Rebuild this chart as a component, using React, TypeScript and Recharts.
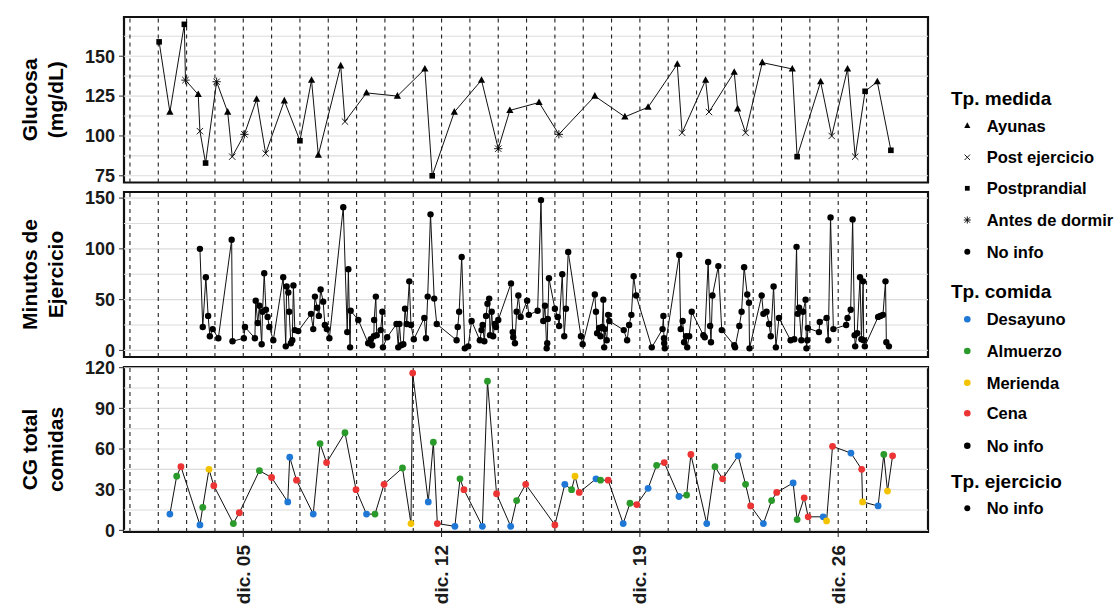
import React from "react";
import {
  ComposedChart,
  Line,
  XAxis,
  YAxis,
  ReferenceLine,
  ReferenceArea,
} from "recharts";

const FONT = "'Liberation Sans', Arial, Helvetica, sans-serif";
const CHART_W = 940;
const CHART_H = 612;
const PLOT_LEFT = 124;
const PLOT_RIGHT = 928;

// x values are days since 1 Dec 00:00
const xDomain: [number, number] = [-0.21, 28.17];
const dayLines = [0, 1, 2, 3, 4, 5, 6, 7, 8, 9, 10, 11, 12, 13, 14, 15, 16, 17, 18, 19, 20, 21, 22, 23, 24, 25, 26];
const xTickDays = [4, 11, 18, 25];
const xTickLabels = ["dic. 05", "dic. 12", "dic. 19", "dic. 26"];

// Glucosa
const glucoseDay = [1.03, 1.41, 1.92, 1.96, 2.41, 2.47, 2.67, 3.06, 3.45, 3.61, 4.04, 4.47, 4.79, 5.45, 6.0, 6.41, 6.65, 7.44, 7.59, 8.35, 9.44, 10.41, 10.67, 11.45, 12.41, 13.0, 13.41, 14.44, 15.14, 16.41, 17.47, 18.29, 19.32, 19.49, 20.32, 20.44, 21.33, 21.45, 21.73, 22.32, 23.38, 23.55, 24.38, 24.77, 25.33, 25.6, 25.95, 26.38, 26.86];
const glucoseValue = [159, 115, 170, 135, 126, 103, 83, 134, 115, 87, 101, 123, 89, 122, 97, 135, 88, 144, 109, 127, 125, 142, 75, 115, 135, 92, 116, 121, 101, 125, 112, 118, 145, 102, 135, 115, 140, 117, 102, 146, 142, 87, 134, 100, 142, 87, 128, 134, 91];
const glucoseType = ["S", "A", "S", "D", "A", "P", "S", "D", "A", "P", "D", "A", "P", "A", "S", "A", "A", "A", "P", "A", "A", "A", "S", "A", "A", "D", "A", "A", "D", "A", "A", "A", "A", "P", "A", "P", "A", "A", "P", "A", "A", "S", "A", "P", "A", "P", "S", "A", "S"];
const glucoseYDomain: [number, number] = [70.8, 174.6];
const glucoseTicks = [75, 100, 125, 150];
const glucoseGrid = [75, 87.5, 100, 112.5, 125, 137.5, 150, 162.5];

// Minutos de ejercicio
const exerciseDay = [2.47, 2.57, 2.68, 2.76, 2.82, 2.92, 3.12, 3.59, 3.62, 4.02, 4.06, 4.41, 4.44, 4.51, 4.57, 4.65, 4.68, 4.74, 4.8, 4.86, 4.92, 5.06, 5.41, 5.5, 5.53, 5.59, 5.62, 5.68, 5.73, 5.77, 5.82, 5.94, 6.39, 6.47, 6.53, 6.61, 6.67, 6.73, 6.82, 6.88, 6.95, 7.04, 7.53, 7.67, 7.71, 7.77, 7.79, 8.06, 8.41, 8.5, 8.55, 8.61, 8.62, 8.68, 8.71, 8.85, 8.91, 8.93, 9.08, 9.41, 9.47, 9.51, 9.57, 9.65, 9.71, 9.77, 9.86, 9.92, 10.02, 10.39, 10.45, 10.51, 10.61, 10.74, 10.83, 11.53, 11.57, 11.62, 11.71, 11.82, 11.94, 12.06, 12.35, 12.41, 12.45, 12.51, 12.57, 12.62, 12.68, 12.71, 12.77, 12.82, 12.88, 12.92, 13.0, 13.45, 13.51, 13.53, 13.59, 13.65, 13.71, 13.79, 14.02, 14.08, 14.39, 14.51, 14.59, 14.65, 14.71, 14.73, 14.75, 14.79, 15.0, 15.1, 15.15, 15.26, 15.33, 15.39, 15.47, 15.92, 15.98, 16.41, 16.45, 16.49, 16.56, 16.61, 16.67, 16.71, 16.74, 16.76, 16.83, 16.88, 16.92, 17.43, 17.55, 17.62, 17.7, 17.78, 17.87, 18.42, 18.8, 18.83, 18.85, 18.86, 18.88, 19.39, 19.44, 19.51, 19.56, 19.63, 19.67, 19.74, 19.83, 20.24, 20.29, 20.41, 20.48, 20.51, 20.56, 20.77, 20.89, 21.33, 21.36, 21.51, 21.59, 21.68, 21.79, 21.85, 21.87, 22.3, 22.36, 22.47, 22.56, 22.62, 22.72, 22.8, 22.91, 23.32, 23.45, 23.53, 23.57, 23.62, 23.7, 23.76, 23.85, 23.88, 23.91, 23.93, 24.32, 24.35, 24.59, 24.65, 24.73, 24.83, 25.28, 25.33, 25.44, 25.51, 25.58, 25.6, 25.67, 25.77, 25.82, 25.88, 25.9, 25.94, 26.41, 26.49, 26.58, 26.67, 26.7, 26.79];
const exerciseMinutes = [100, 23, 72, 34, 14, 21, 12, 109, 9, 12, 23, 12, 49, 27, 44, 6, 38, 76, 40, 33, 23, 10, 72, 4, 63, 57, 38, 7, 10, 64, 20, 19, 36, 21, 53, 42, 34, 60, 48, 25, 21, 12, 141, 18, 80, 3, 39, 30, 7, 11, 5, 14, 30, 53, 15, 20, 38, 3, 13, 26, 3, 26, 5, 6, 41, 26, 68, 25, 11, 32, 12, 53, 134, 51, 26, 10, 23, 38, 92, 2, 4, 29, 10, 20, 25, 9, 34, 46, 51, 15, 38, 14, 26, 23, 30, 66, 18, 13, 7, 38, 54, 33, 49, 35, 39, 148, 29, 44, 2, 7, 31, 71, 41, 33, 24, 75, 14, 41, 97, 14, 6, 55, 38, 17, 22, 14, 23, 50, 3, 21, 10, 35, 29, 20, 10, 25, 35, 73, 54, 3, 21, 34, 12, 7, 2, 94, 21, 29, 8, 14, 3, 14, 38, 15, 13, 87, 24, 8, 54, 83, 20, 5, 3, 24, 38, 82, 55, 47, 2, 54, 36, 38, 26, 14, 63, 3, 32, 10, 11, 102, 36, 42, 10, 38, 50, 2, 10, 22, 18, 28, 32, 10, 131, 21, 25, 32, 40, 129, 15, 4, 17, 72, 11, 68, 10, 4, 33, 34, 35, 68, 8, 4];
const exerciseYDomain: [number, number] = [-6.5, 156];
const exerciseTicks = [0, 50, 100, 150];
const exerciseGrid = [0, 25, 50, 75, 100, 125, 150];

// CG total comidas
const mealDay = [1.41, 1.65, 1.8, 2.47, 2.57, 2.79, 2.96, 3.65, 3.86, 4.57, 5.0, 5.57, 5.64, 5.88, 6.47, 6.71, 6.94, 7.59, 7.98, 8.35, 8.65, 8.97, 9.62, 9.92, 9.98, 10.53, 10.71, 10.85, 11.47, 11.65, 11.79, 12.44, 12.62, 12.94, 13.44, 13.65, 13.97, 15.0, 15.35, 15.59, 15.71, 15.86, 16.45, 16.61, 16.88, 17.41, 17.65, 17.89, 18.29, 18.59, 18.86, 19.38, 19.65, 19.8, 20.36, 20.65, 20.92, 21.47, 21.73, 21.91, 22.36, 22.65, 22.83, 23.41, 23.55, 23.8, 23.94, 24.47, 24.59, 24.8, 25.45, 25.83, 25.86, 26.41, 26.61, 26.74, 26.92];
const mealLoad = [12, 40, 47, 4, 17, 45, 33, 5, 13, 44, 39, 21, 54, 37, 12, 64, 50, 72, 30, 12, 12, 34, 46, 5, 116, 21, 65, 5, 3, 38, 30, 3, 110, 27, 3, 22, 34, 4, 34, 30, 40, 28, 38, 37, 37, 5, 20, 19, 31, 48, 50, 25, 26, 56, 5, 47, 38, 55, 34, 18, 5, 22, 28, 35, 8, 24, 10, 10, 7, 62, 57, 45, 21, 18, 56, 29, 55];
const mealType = ["B", "G", "R", "B", "G", "Y", "R", "G", "R", "G", "R", "B", "B", "R", "B", "G", "R", "G", "R", "B", "G", "R", "G", "Y", "R", "B", "G", "R", "B", "G", "R", "B", "G", "R", "B", "G", "R", "R", "B", "G", "Y", "R", "B", "G", "R", "B", "G", "R", "B", "G", "R", "B", "G", "R", "B", "G", "R", "B", "G", "R", "B", "G", "R", "B", "G", "R", "R", "B", "Y", "R", "B", "R", "Y", "B", "G", "Y", "R"];
const mealYDomain: [number, number] = [-1.2, 120.5];
const mealTicks = [0, 30, 60, 90, 120];
const mealGrid = [0, 15, 30, 45, 60, 75, 90, 105, 120];

const mealColors: Record<string, string> = {
  B: "#1f78d6",
  G: "#2a9a2a",
  Y: "#f3c300",
  R: "#ec3434",
};

const glucoseData = glucoseDay.map((d, i) => ({ day: d, value: glucoseValue[i], type: glucoseType[i] }));
const exerciseData = exerciseDay.map((d, i) => ({ day: d, value: exerciseMinutes[i] }));
const mealData = mealDay.map((d, i) => ({ day: d, value: mealLoad[i], type: mealType[i] }));

function GlucoseShape({ cx, cy, type, s = 1 }: { cx: number; cy: number; type: string; s?: number }) {
  if (type === "A") {
    return (
      <polygon
        points={`${cx},${cy - 4 * s} ${cx - 3.6 * s},${cy + 2.6 * s} ${cx + 3.6 * s},${cy + 2.6 * s}`}
        fill="#000"
      />
    );
  }
  if (type === "S") {
    return <rect x={cx - 2.8 * s} y={cy - 2.8 * s} width={5.6 * s} height={5.6 * s} fill="#000" />;
  }
  const r = 3.2 * s;
  return (
    <g stroke="#000" strokeWidth={0.9}>
      <line x1={cx - r} y1={cy - r} x2={cx + r} y2={cy + r} />
      <line x1={cx - r} y1={cy + r} x2={cx + r} y2={cy - r} />
      {type === "D" && (
        <>
          <line x1={cx} y1={cy - r * 1.3} x2={cx} y2={cy + r * 1.3} />
          <line x1={cx - r * 1.3} y1={cy} x2={cx + r * 1.3} y2={cy} />
        </>
      )}
    </g>
  );
}

const DateTick = (props: any) => {
  const { x, y, payload } = props;
  const label = xTickLabels[xTickDays.indexOf(payload.value)];
  return (
    <text
      x={x}
      y={y}
      transform={`rotate(-90 ${x} ${y})`}
      textAnchor="end"
      dominantBaseline="central"
      fontFamily={FONT}
      fontWeight={700}
      fontSize={19}
      fill="#1a1a1a"
    >
      {label}
    </text>
  );
};

interface PanelProps {
  top: number;
  bottom: number;
  yDomain: [number, number];
  yTicks: number[];
  yGrid: number[];
  showX?: boolean;
  children: React.ReactNode;
}

function Panel({ top, bottom, yDomain, yTicks, yGrid, showX, children }: PanelProps) {
  return (
    <div style={{ position: "absolute", left: 0, top: 0 }}>
      <ComposedChart
        width={CHART_W}
        height={CHART_H}
        margin={{ top, right: CHART_W - PLOT_RIGHT, bottom: showX ? 0 : CHART_H - bottom, left: 0 }}
      >
        <XAxis
          type="number"
          dataKey="day"
          domain={xDomain}
          allowDataOverflow
          hide={!showX}
          height={showX ? CHART_H - bottom : 0}
          ticks={xTickDays}
          tick={<DateTick />}
          tickSize={5}
          tickMargin={8}
          tickLine={{ stroke: "#222" }}
          axisLine={false}
          interval={0}
        />
        <YAxis
          type="number"
          domain={yDomain}
          allowDataOverflow
          ticks={yTicks}
          interval={0}
          width={PLOT_LEFT}
          tickSize={5}
          tickMargin={4}
          tickLine={{ stroke: "#333" }}
          axisLine={false}
          tick={{ fontSize: 18, fontWeight: 700, fill: "#1a1a1a", fontFamily: FONT }}
        />
        {yGrid.map((v) => (
          <ReferenceLine key={`g${v}`} y={v} stroke="#dcdcdc" strokeWidth={1.1} />
        ))}
        {dayLines.map((d) => (
          <ReferenceLine key={`d${d}`} x={d} stroke="#222" strokeWidth={1.1} strokeDasharray="4 4" />
        ))}
        {children}
        <ReferenceArea
          x1={xDomain[0]}
          x2={xDomain[1]}
          y1={yDomain[0]}
          y2={yDomain[1]}
          fill="none"
          fillOpacity={0}
          stroke="#111"
          strokeWidth={2.2}
        />
      </ComposedChart>
    </div>
  );
}

const legendMedida = [
  { type: "A", label: "Ayunas", y: 125.7 },
  { type: "P", label: "Post ejercicio", y: 157.3 },
  { type: "S", label: "Postprandial", y: 188.3 },
  { type: "D", label: "Antes de dormir", y: 220 },
  { type: "N", label: "No info", y: 251.7 },
];
const legendComida = [
  { type: "B", label: "Desayuno", y: 319.3 },
  { type: "G", label: "Almuerzo", y: 351 },
  { type: "Y", label: "Merienda", y: 382.7 },
  { type: "R", label: "Cena", y: 413.3 },
  { type: "N", label: "No info", y: 445.7 },
];

function Overlay() {
  const titleStyle = { fontFamily: FONT, fontWeight: 700, fontSize: 21, fill: "#000" };
  const legTitle = { fontFamily: FONT, fontWeight: 700, fontSize: 19, fill: "#000" };
  const legLabel = { fontFamily: FONT, fontWeight: 700, fontSize: 16.5, fill: "#000" };
  const yTitle = (lines: string[], cy: number) =>
    lines.map((t, i) => (
      <text
        key={t}
        transform={`translate(${29 + i * 26}, ${cy}) rotate(-90)`}
        textAnchor="middle"
        dominantBaseline="central"
        style={titleStyle}
      >
        {t}
      </text>
    ));
  return (
    <svg
      width={1117}
      height={612}
      style={{ position: "absolute", left: 0, top: 0, pointerEvents: "none" }}
    >
      {yTitle(["Glucosa", "(mg/dL)"], 99.7)}
      {yTitle(["Minutos de", "Ejercicio"], 274.5)}
      {yTitle(["CG total", "comidas"], 449.5)}

      <text x={951} y={98.3} dominantBaseline="central" style={legTitle}>Tp. medida</text>
      {legendMedida.map((it) => (
        <g key={it.label}>
          {it.type === "N" ? (
            <circle cx={967.3} cy={it.y} r={3} fill="#000" />
          ) : (
            <GlucoseShape cx={967.3} cy={it.y} type={it.type} s={0.85} />
          )}
          <text x={986.7} y={it.y} dominantBaseline="central" style={legLabel}>{it.label}</text>
        </g>
      ))}

      <text x={951} y={291.7} dominantBaseline="central" style={legTitle}>Tp. comida</text>
      {legendComida.map((it) => (
        <g key={it.label + it.y}>
          <circle cx={967.3} cy={it.y} r={3.3} fill={mealColors[it.type] || "#000"} />
          <text x={986.7} y={it.y} dominantBaseline="central" style={legLabel}>{it.label}</text>
        </g>
      ))}

      <text x={951} y={481.7} dominantBaseline="central" style={legTitle}>Tp. ejercicio</text>
      <circle cx={967.3} cy={508.3} r={3} fill="#000" />
      <text x={986.7} y={508.3} dominantBaseline="central" style={legLabel}>No info</text>
    </svg>
  );
}

export default function App() {
  return (
    <div style={{ position: "absolute", left: 0, top: 0, width: 1117, height: 612, background: "#fff" }}>
      <Panel top={17} bottom={182.5} yDomain={glucoseYDomain} yTicks={glucoseTicks} yGrid={glucoseGrid}>
        <Line
          data={glucoseData}
          dataKey="value"
          type="linear"
          stroke="#111"
          strokeWidth={1}
          isAnimationActive={false}
          activeDot={false}
          dot={(p: any) => <GlucoseShape key={`gl${p.index}`} cx={p.cx} cy={p.cy} type={p.payload.type} />}
        />
      </Panel>
      <Panel top={192} bottom={357} yDomain={exerciseYDomain} yTicks={exerciseTicks} yGrid={exerciseGrid}>
        <Line
          data={exerciseData}
          dataKey="value"
          type="linear"
          stroke="#111"
          strokeWidth={1}
          isAnimationActive={false}
          activeDot={false}
          dot={(p: any) => <circle key={`ex${p.index}`} cx={p.cx} cy={p.cy} r={3.2} fill="#000" />}
        />
      </Panel>
      <Panel top={367} bottom={532} yDomain={mealYDomain} yTicks={mealTicks} yGrid={mealGrid} showX>
        <Line
          data={mealData}
          dataKey="value"
          type="linear"
          stroke="#111"
          strokeWidth={1}
          isAnimationActive={false}
          activeDot={false}
          dot={(p: any) => (
            <circle key={`ml${p.index}`} cx={p.cx} cy={p.cy} r={3.4} fill={mealColors[p.payload.type]} />
          )}
        />
      </Panel>
      <Overlay />
    </div>
  );
}
